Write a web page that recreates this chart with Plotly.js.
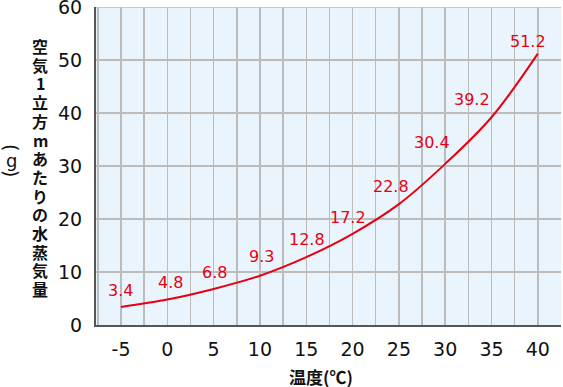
<!DOCTYPE html>
<html><head><meta charset="utf-8">
<script src="https://cdn.plot.ly/plotly-3.0.1.min.js"></script>
<style>html,body{margin:0;padding:0;background:#fff}#c{width:563px;height:387px}</style>
</head><body><div id="c"></div>
<script>
const temperatures = [-5, 0, 5, 10, 15, 20, 25, 30, 35, 40];
const vapor = [3.4, 4.8, 6.8, 9.3, 12.8, 17.2, 22.8, 30.4, 39.2, 51.2];
const xTickVals = [-5, 0, 5, 10, 15, 20, 25, 30, 35, 40];
const xTickText = ["-5", "0", "5", "10", "15", "20", "25", "30", "35", "40"];
const yTickVals = [0, 10, 20, 30, 40, 50, 60];
const yTickText = ["0", "10", "20", "30", "40", "50", "60"];
const yTitle = "空気1立方mあたりの水蒸気量";
const xTitle = "温度(℃)";
const unitLabel = ["(", "g", ")"];

// label offsets (style only, px)
const labelDx = [-1, 3, 1, 2, 1, -5, -8, -13, -20, -10];
const labelDy = [16, 17, 16, 19, 18, 16, 18, 21, 18, 12];

const RED = "#e60012";
const FONT = "Noto Sans CJK JP, Noto Sans, sans-serif";
const NUMFONT = "DejaVu Sans, sans-serif";

const trace = {
  x: temperatures, y: vapor, type: "scatter", mode: "lines",
  line: {color: RED, width: 2, shape: "spline", smoothing: 1},
  hoverinfo: "skip"
};

const annotations = [];
temperatures.forEach((t, i) => {
  annotations.push({
    x: t, y: vapor[i], xref: "x", yref: "y", text: String(vapor[i]),
    showarrow: false, xanchor: "center", yanchor: "middle",
    xshift: labelDx[i], yshift: labelDy[i],
    font: {family: NUMFONT, size: 16, color: RED}
  });
});
// vertical y title, one character per line
const chars = Array.from(yTitle);
const step = 18.7;
chars.forEach((ch, i) => {
  annotations.push({
    xref: "paper", yref: "paper", x: 0, y: 1, xanchor: "center", yanchor: "middle",
    xshift: -56, yshift: -(46 - 7) - i * step,
    text: "<b>" + ch + "</b>", showarrow: false,
    font: {family: FONT, size: 16, color: "#111"}
  });
});
unitLabel.forEach((ch, i) => {
  annotations.push({
    xref: "paper", yref: "paper", x: 0, y: 1, xanchor: "center", yanchor: "middle",
    xshift: -85, yshift: -(147 - 7) - i * 13,
    text: ch, showarrow: false, textangle: (i === 1 ? 0 : 90),
    font: {family: NUMFONT, size: (i === 1 ? 18 : 19), color: "#111"}
  });
});
annotations.push({
  xref: "paper", yref: "paper", x: 0, y: 0, xanchor: "center", yanchor: "middle",
  xshift: 321 - 96, yshift: -(376 - 325),
  text: "<b>" + xTitle + "</b>", showarrow: false,
  font: {family: FONT, size: 17, color: "#111"}
});

const layout = {
  width: 563, height: 387,
  margin: {l: 96, r: 2, t: 7, b: 62, pad: 0},
  paper_bgcolor: "#ffffff", plot_bgcolor: "#eaf4fc",
  showlegend: false,
  xaxis: {
    range: [-7.7, 42.5], tickmode: "array", tickvals: xTickVals, ticktext: xTickText,
    ticks: "", ticklabelstandoff: 6,
    showgrid: true, gridcolor: "#bcbcbc", gridwidth: 1.5,
    minor: {dtick: 2.5, tick0: -5, showgrid: true, gridcolor: "#bcbcbc", gridwidth: 1.5},
    showline: true, linecolor: "#555", linewidth: 2,
    zeroline: false,
    tickfont: {family: NUMFONT, size: 19, color: "#111"}
  },
  yaxis: {
    range: [0, 60], tickmode: "array", tickvals: yTickVals, ticktext: yTickText,
    ticks: "", ticklabelstandoff: 8, ticklabeloverflow: "allow",
    showgrid: true, gridcolor: "#bcbcbc", gridwidth: 1.5,
    showline: true, linecolor: "#555", linewidth: 2,
    zeroline: false,
    tickfont: {family: NUMFONT, size: 19, color: "#111"}
  },
  shapes: [{
    type: "line", xref: "paper", yref: "y", x0: 0, x1: 1,
    y0: yTickVals[yTickVals.length - 1], y1: yTickVals[yTickVals.length - 1],
    line: {color: "#bcbcbc", width: 1.5}, layer: "below"
  }],
  annotations: annotations
};

Plotly.newPlot("c", [trace], layout, {staticPlot: true, displayModeBar: false});
</script>
</body></html>
